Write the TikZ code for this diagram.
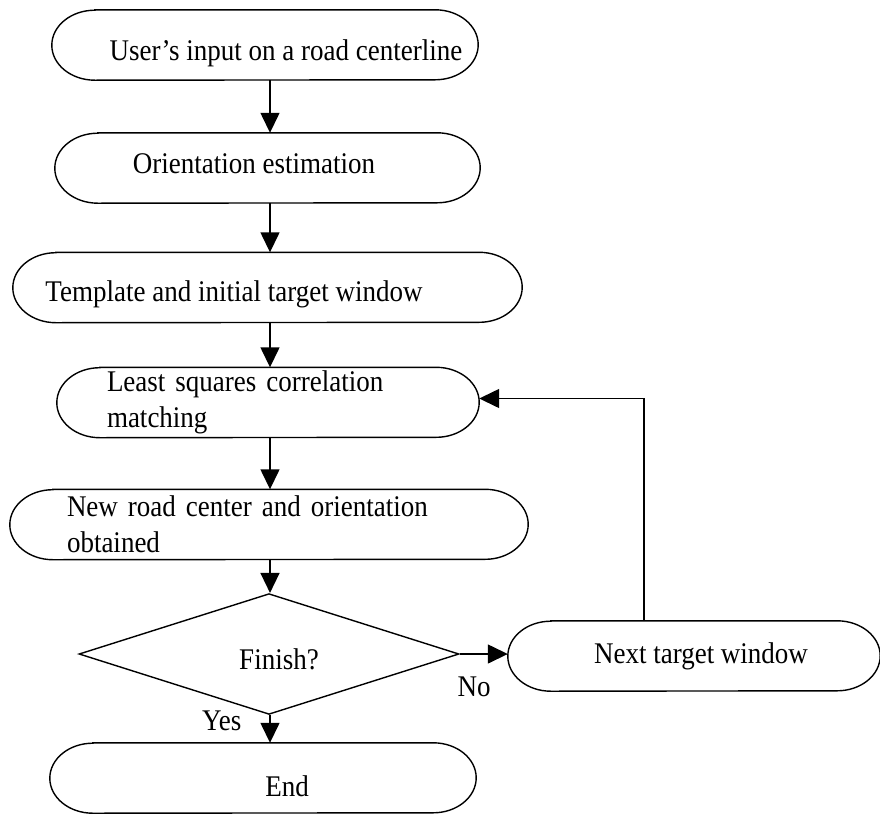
\documentclass[tikz,border=0pt]{standalone}
\usepackage{fontspec}
\setmainfont{Liberation Serif}[FakeStretch=0.9]
\usetikzlibrary{positioning,shapes.geometric,arrows.meta}
\tikzset{
  capsule/.style  = {rectangle, minimum height=70pt, inner sep=0pt, align=center,
    append after command={\pgfextra{\draw[line width=1.4pt]
      ([xshift=43pt]\tikzlastnode.north west) -- ([xshift=-43pt]\tikzlastnode.north east)
      arc[start angle=90, end angle=-90, x radius=43pt, y radius=35pt]
      -- ([xshift=43pt]\tikzlastnode.south west)
      arc[start angle=270, end angle=90, x radius=43pt, y radius=35pt] -- cycle;}}},
  decision/.style = {diamond, draw, line width=1.4pt, minimum width=380pt, minimum height=82pt, inner sep=0pt},
  flow/.style     = {line width=1.4pt, -{Triangle[length=20pt,width=19pt]}},
  answer/.style   = {inner sep=0pt}
}
\newcommand{\lowerby}[2]{\raisebox{-#1}[\height][\depth]{#2}}

\begin{document}
\begin{tikzpicture}[
		x=1pt, y=-1pt,
		font=\fontsize{30}{36}\selectfont
	]
		\useasboundingbox (0,0) rectangle (880,814);
		\coordinate (spine) at (270,0);
		\node[capsule, minimum width=426pt] (start) at (265,45) {\lowerby{8pt}{\hspace*{42pt}User’s input on a road centerline}};
		\node[capsule, minimum width=425pt] (orient) at (267.5,168) {\lowerby{-4pt}{Orientation estimation\hspace*{27pt}}};
		\node[capsule, minimum width=509pt] (templ) at (267.5,287.5) {\lowerby{7pt}{Template and initial target window\hspace*{67pt}}};
		\node[capsule, minimum width=422pt, text width=322pt, align=left] (lsq) at (268,402.5) {Least squares correlation\\matching};
		\node[capsule, minimum width=518pt, text width=404pt, align=left] (newc) at (269,524.5) {New road center and orientation\\obtained};
		\node[decision] (fin) at (269,654) {\lowerby{5pt}{\hspace*{20pt}Finish?}};
		\node[capsule, minimum width=372pt] (next) at (694,656) {\hspace*{14pt}Next target window};
		\node[capsule, minimum width=426pt] (end) at (263,778) {\lowerby{8pt}{\hspace*{48pt}End}};

		\draw[flow] (start.south -| spine) -- (orient.north -| spine);
		\draw[flow] (orient.south -| spine) -- (templ.north -| spine);
		\draw[flow] (templ.south -| spine) -- (lsq.north -| spine);
		\draw[flow] (lsq.south -| spine) -- (newc.north -| spine);
		\draw[flow] (newc.south -| spine) -- (fin.north -| spine);
		\draw[flow] (fin.south -| spine) -- node[answer, pos=0.2, left=28pt] {Yes} (end.north -| spine);
		\draw[flow] (fin.east) -- node[answer, pos=0.3, below=22pt] {No} (fin.east -| next.west);
		\draw[flow] ([xshift=-50pt]next.north) |- ([yshift=4pt]lsq.east);
	\end{tikzpicture}
\end{document}
